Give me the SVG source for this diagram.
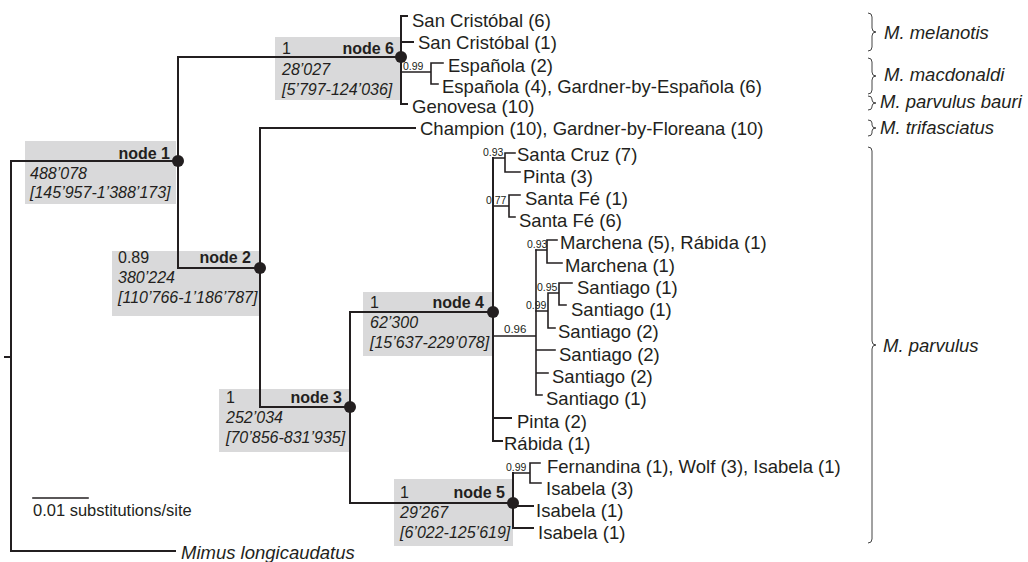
<svg xmlns="http://www.w3.org/2000/svg" width="1028" height="562" viewBox="0 0 1028 562">
<style>
  .br { fill: none; stroke: #231f20; stroke-width: 2; stroke-linecap: square; }
  .sm { fill: none; stroke: #231f20; stroke-width: 1.6; stroke-linecap: square; }
  .brace { fill: none; stroke: #444; stroke-width: 1; }
  .box { fill: #d9d9da; }
  .dot { fill: #231f20; }
  text { font-family: "Liberation Sans", Arial, sans-serif; fill: #231f20; }
  .leaf { font-size: 18.5px; }
  .nl { font-size: 16px; font-weight: bold; text-anchor: end; }
  .pp { font-size: 16px; }
  .it { font-size: 16px; font-style: italic; }
  .sup { font-size: 10.5px; }
  .sp { font-size: 18.5px; font-style: italic; }
</style>
<rect width="1028" height="562" fill="#ffffff"/>

<!-- node boxes (drawn under connectors) -->
<g id="node1">
  <rect class="box" x="25" y="141" width="151" height="63"/>
  <text class="nl" x="170" y="159">node 1</text>
  <text class="it" x="30" y="179">488’078</text>
  <text class="it" x="30" y="198">[145’957-1’388’173]</text>
</g>
<g id="node2">
  <rect class="box" x="112" y="251" width="147" height="65"/>
  <text class="pp" x="118" y="263">0.89</text>
  <text class="nl" x="251" y="263">node 2</text>
  <text class="it" x="118" y="283">380’224</text>
  <text class="it" x="118" y="303">[110’766-1’186’787]</text>
</g>
<g id="node3">
  <rect class="box" x="219" y="389" width="131" height="63"/>
  <text class="pp" x="226" y="403">1</text>
  <text class="nl" x="342" y="403">node 3</text>
  <text class="it" x="226" y="423">252’034</text>
  <text class="it" x="226" y="443">[70’856-831’935]</text>
</g>
<g id="node4">
  <rect class="box" x="363" y="292" width="130" height="64"/>
  <text class="pp" x="370" y="308">1</text>
  <text class="nl" x="484" y="308">node 4</text>
  <text class="it" x="370" y="328">62’300</text>
  <text class="it" x="370" y="348">[15’637-229’078]</text>
</g>
<g id="node5">
  <rect class="box" x="394" y="479" width="119" height="67"/>
  <text class="pp" x="400" y="498">1</text>
  <text class="nl" x="505" y="498">node 5</text>
  <text class="it" x="400" y="518">29’267</text>
  <text class="it" x="400" y="538">[6’022-125’619]</text>
</g>
<g id="node6">
  <rect class="box" x="275" y="37" width="126" height="63"/>
  <text class="pp" x="282" y="54">1</text>
  <text class="nl" x="394" y="54">node 6</text>
  <text class="it" x="282" y="75">28’027</text>
  <text class="it" x="282" y="95">[5’797-124’036]</text>
</g>

<!-- connectors -->
<g id="connectors">
  <path class="br" d="M11,161 V551 M5,357 H11 M11,161 H178 M11,551 H175"/>
  <path class="br" d="M178,57 V268 M178,57 H401 M178,268 H260"/>
  <path class="br" d="M401,16 V104 M401,16 H407 M401,42 H413 M401,104 H407"/>
  <path class="sm" d="M401,72 H431 M431,63 V84 M431,63 H443 M431,84 H438"/>
  <path class="br" d="M260,128 V407 M260,128 H415 M260,407 H350"/>
  <path class="br" d="M350,312 V503 M350,312 H493 M350,503 H513"/>
  <path class="br" d="M493,158 V441 M493,418 H511 M493,441 H502"/>
  <path class="sm" d="M493,158 H505 M505,153 V172 M505,153 H515 M505,172 H520"/>
  <path class="sm" d="M493,206 H509 M509,195 V217 M509,195 H520 M509,217 H515"/>
  <path class="sm" d="M493,336 H536 M536,250 V395 M536,350 H555 M536,373 H548 M536,395 H542"/>
  <path class="sm" d="M536,250 H547 M547,240 V263 M547,240 H557 M547,263 H562"/>
  <path class="sm" d="M536,311 H548 M548,293 V328 M548,328 H555 M548,293 H559 M559,283 V305 M559,283 H572 M559,305 H566"/>
  <path class="br" d="M513,473 V528 M513,506 H533 M513,528 H533"/>
  <path class="sm" d="M513,473 H530 M530,463 V483 M530,463 H540 M530,483 H541"/>
  <path class="sm" d="M33,498 H88"/>
</g>

<!-- node dots -->
<g id="dots">
  <circle class="dot" cx="178" cy="161" r="6"/>
  <circle class="dot" cx="260" cy="268" r="6"/>
  <circle class="dot" cx="350" cy="407" r="6"/>
  <circle class="dot" cx="493" cy="312" r="6"/>
  <circle class="dot" cx="513" cy="503" r="6"/>
  <circle class="dot" cx="401" cy="57" r="6"/>
</g>

<!-- support values -->
<g id="supports">
  <text class="sup" x="403" y="70">0.99</text>
  <text class="sup" x="483" y="156">0.93</text>
  <text class="sup" x="486" y="204">0.77</text>
  <text class="sup" x="527" y="248">0.93</text>
  <text class="sup" x="537" y="291">0.95</text>
  <text class="sup" x="526" y="309">0.99</text>
  <text class="sup" x="504" y="333" style="font-size:11.5px">0.96</text>
  <text class="sup" x="506" y="471">0.99</text>
</g>

<!-- leaves -->
<g id="leaves">
  <text id="leaf-sc6" class="leaf" x="412" y="27">San Cristóbal (6)</text>
  <text id="leaf-sc1" class="leaf" x="418" y="49">San Cristóbal (1)</text>
  <text id="leaf-es2" class="leaf" x="448" y="72">Española (2)</text>
  <text id="leaf-es4" class="leaf" x="442" y="93">Española (4), Gardner-by-Española (6)</text>
  <text id="leaf-gen" class="leaf" x="412" y="113">Genovesa (10)</text>
  <text id="leaf-cha" class="leaf" x="420" y="135">Champion (10), Gardner-by-Floreana (10)</text>
  <text id="leaf-scz" class="leaf" x="517" y="161">Santa Cruz (7)</text>
  <text id="leaf-pi3" class="leaf" x="523" y="183">Pinta (3)</text>
  <text id="leaf-sf1" class="leaf" x="525" y="205">Santa Fé (1)</text>
  <text id="leaf-sf6" class="leaf" x="519" y="227">Santa Fé (6)</text>
  <text id="leaf-mr5" class="leaf" x="560" y="249">Marchena (5), Rábida (1)</text>
  <text id="leaf-mr1" class="leaf" x="565" y="272">Marchena (1)</text>
  <text id="leaf-st1a" class="leaf" x="577" y="294">Santiago (1)</text>
  <text id="leaf-st1b" class="leaf" x="571" y="316">Santiago (1)</text>
  <text id="leaf-st2a" class="leaf" x="558" y="338">Santiago (2)</text>
  <text id="leaf-st2b" class="leaf" x="559" y="361">Santiago (2)</text>
  <text id="leaf-st2c" class="leaf" x="552" y="383">Santiago (2)</text>
  <text id="leaf-st1c" class="leaf" x="546" y="405">Santiago (1)</text>
  <text id="leaf-pi2" class="leaf" x="517" y="428">Pinta (2)</text>
  <text id="leaf-ra1" class="leaf" x="504" y="450">Rábida (1)</text>
  <text id="leaf-fer" class="leaf" x="547" y="473">Fernandina (1), Wolf (3), Isabela (1)</text>
  <text id="leaf-is3" class="leaf" x="546" y="495">Isabela (3)</text>
  <text id="leaf-is1a" class="leaf" x="536" y="517">Isabela (1)</text>
  <text id="leaf-is1b" class="leaf" x="538" y="539">Isabela (1)</text>
  <text id="leaf-mimus" class="leaf" x="181" y="559" style="font-style:italic">Mimus longicaudatus</text>
</g>

<!-- scale -->
<g id="scale">
  <text x="33" y="516" style="font-size:16.5px">0.01 substitutions/site</text>
</g>

<!-- species braces -->
<g id="species">
  <path class="brace" d="M868,13 Q872,13 872,17 V28 Q872,32 876,32 Q872,32 872,36 V47 Q872,51 868,51"/>
  <text class="sp" x="884" y="39">M. melanotis</text>
  <path class="brace" d="M868,58 Q872,58 872,62 V72 Q872,76 876,76 Q872,76 872,80 V90 Q872,94 868,94"/>
  <text class="sp" x="884" y="81">M. macdonaldi</text>
  <path class="brace" d="M868,96 Q872,96 872,99 V100 Q872,103 876,103 Q872,103 872,106 V107 Q872,110 868,110"/>
  <text class="sp" x="880" y="108">M. parvulus bauri</text>
  <path class="brace" d="M868,120 Q872,120 872,123 V125 Q872,128 876,128 Q872,128 872,131 V133 Q872,136 868,136"/>
  <text class="sp" x="880" y="134">M. trifasciatus</text>
  <path class="brace" d="M868,147 Q872,147 872,151 V341 Q872,345 876,345 Q872,345 872,349 V539 Q872,543 868,543"/>
  <text class="sp" x="883" y="352">M. parvulus</text>
</g>
</svg>
